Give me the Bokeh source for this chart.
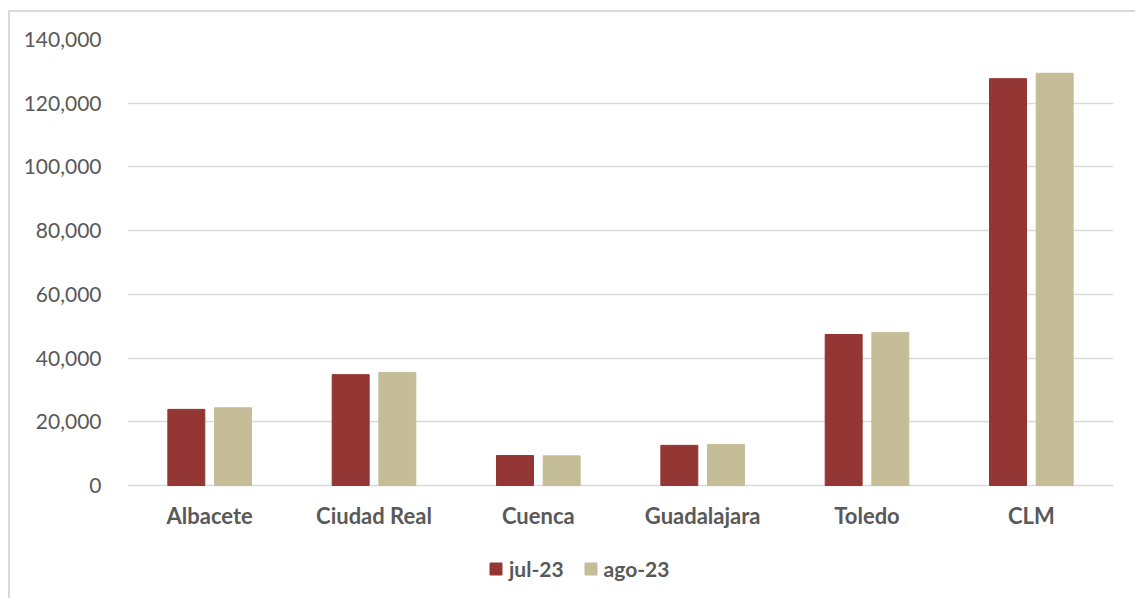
from bokeh.plotting import figure
from bokeh.models import ColumnDataSource, FactorRange, Range1d, Legend, LegendItem, NumeralTickFormatter, FixedTicker
from bokeh.transform import dodge
from bokeh.embed import file_html
from bokeh.resources import INLINE

categories = ["Albacete", "Ciudad Real", "Cuenca", "Guadalajara", "Toledo", "CLM"]
jul_23 = [23900, 34800, 9400, 12600, 47400, 127700]
ago_23 = [24400, 35500, 9300, 12900, 48000, 129400]
series_names = ["jul-23", "ago-23"]
y_ticks = [0, 20000, 40000, 60000, 80000, 100000, 120000, 140000]
colors = ["#943634", "#C4BD97"]

FONT = "Lato"
TEXT = "#595959"

src = ColumnDataSource(dict(cat=categories, jul=jul_23, ago=ago_23))

# frame runs from y=39 (140,000) to the bottom of the page; 0 sits at y=485
p = figure(x_range=FactorRange(*categories, range_padding=0), y_range=Range1d(-35471, 140000),
           width=1135, height=598, output_backend="svg", toolbar_location=None,
           min_border_left=127, min_border_right=22, min_border_top=39, min_border_bottom=0,
           outline_line_color=None)
p.border_fill_alpha = 0
p.background_fill_alpha = 0
p.styles = {"box-shadow": "inset 8px 10px 0 0 white, inset 10px 12px 0 0 #D9D9D9"}

r1 = p.vbar(x=dodge("cat", -0.142, range=p.x_range), top="jul", bottom=0, width=0.225, source=src,
            fill_color=colors[0], line_color=colors[0])
r2 = p.vbar(x=dodge("cat", 0.142, range=p.x_range), top="ago", bottom=0, width=0.225, source=src,
            fill_color=colors[1], line_color=colors[1])

p.yaxis.ticker = FixedTicker(ticks=y_ticks)
p.yaxis.formatter = NumeralTickFormatter(format="0,0")
p.xaxis.fixed_location = 0
for ax in (p.xaxis[0], p.yaxis[0]):
    ax.axis_line_color = None
    ax.major_tick_line_color = None
    ax.minor_tick_line_color = None
    ax.major_label_text_font = FONT
    ax.major_label_text_color = TEXT
    ax.major_label_text_font_size = "21px"
p.yaxis.major_label_standoff = 20
p.xaxis.major_label_standoff = 11
p.xaxis.major_label_text_font_style = "bold"
p.xaxis.major_label_text_font_size = "22px"

p.xgrid.grid_line_color = None
p.ygrid.grid_line_color = "#D9D9D9"
p.ygrid.grid_line_width = 1.5

legend = Legend(items=[LegendItem(label=series_names[0], renderers=[r1]),
                       LegendItem(label=series_names[1], renderers=[r2])],
                orientation="horizontal", location=(361, 17), margin=0,
                label_text_font=FONT, label_text_font_style="bold", label_text_color=TEXT,
                label_text_font_size="21px", glyph_width=15, glyph_height=15,
                spacing=19, label_standoff=6, border_line_color=None, background_fill_alpha=0,
                padding=4)
p.add_layout(legend, "center")

open("out.html", "w").write(file_html(p, INLINE))
